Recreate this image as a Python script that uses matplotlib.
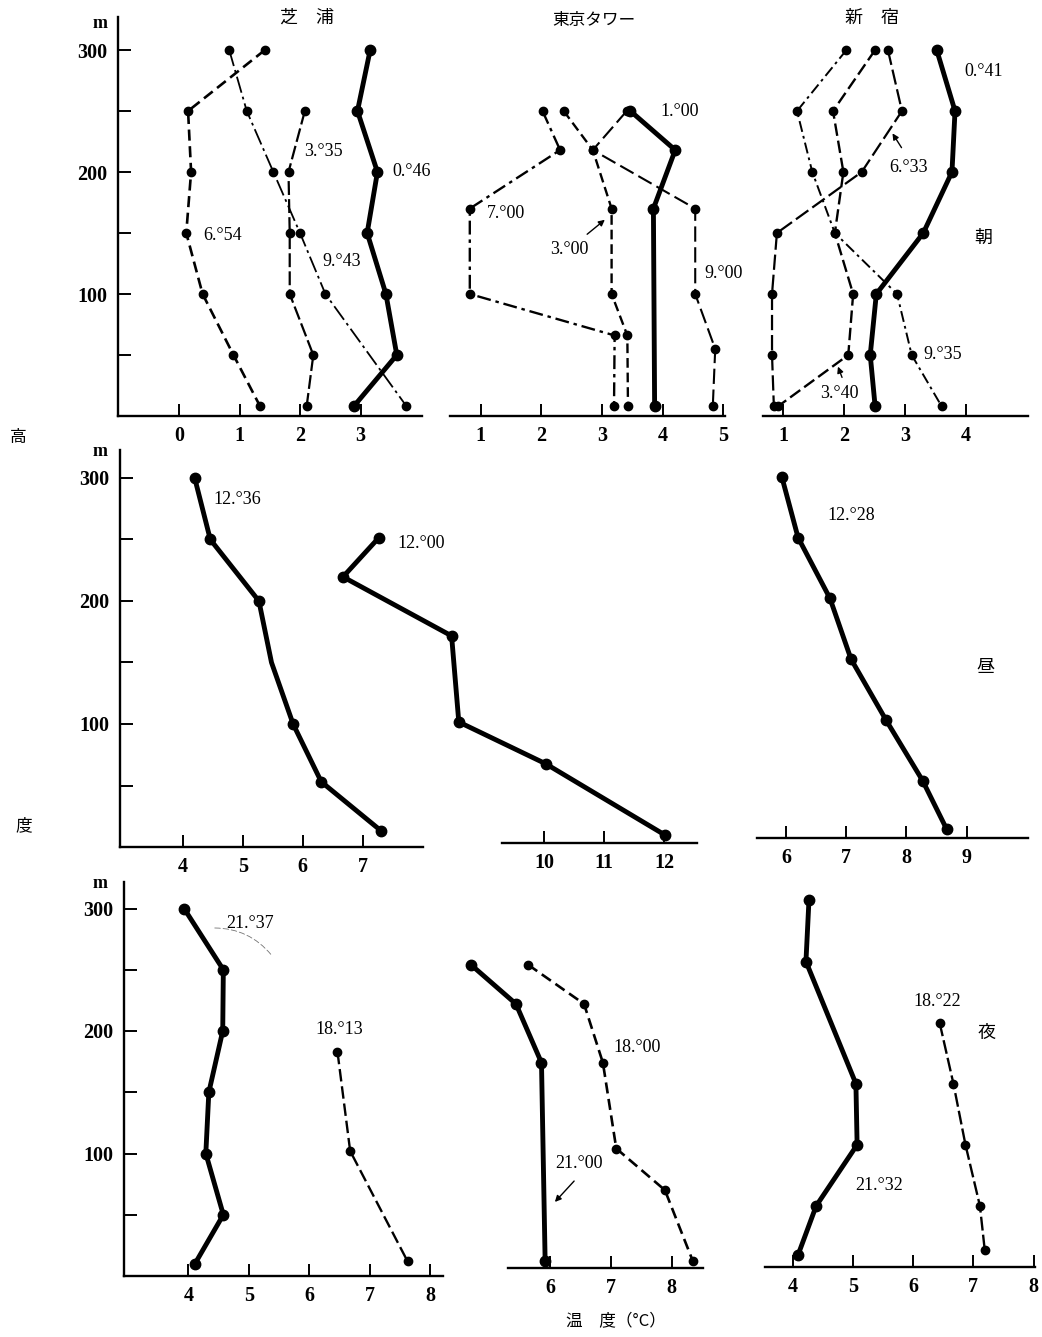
import matplotlib
matplotlib.use("Agg")
import matplotlib.pyplot as plt
import matplotlib.patches as mpatches

plt.rcParams['font.family'] = ['Liberation Serif', 'DejaVu Serif']
plt.rcParams['lines.scale_dashes'] = False

# ---- data (temperature degC vs height m) ----
# morning, Shibaura
sh_h = [300, 250, 200, 150, 100, 50, 8]
sh_0046 = [3.16, 2.95, 3.28, 3.11, 3.42, 3.60, 2.89]
sh_0335_h = [250, 200, 150, 100, 50, 8]
sh_0335 = [2.08, 1.81, 1.83, 1.83, 2.22, 2.11]
sh_0654 = [1.42, 0.15, 0.20, 0.12, 0.39, 0.90, 1.34]
sh_0943_h = [300, 250, 200, 150, 100, 8]
sh_0943 = [0.83, 1.12, 1.56, 2.00, 2.42, 3.76]

# morning, Tokyo Tower
tt_h = [250, 218, 170, 100, 66, 8]
tt_0100_h = [250, 218, 170, 8]
tt_0100 = [3.47, 4.21, 3.85, 3.87]
tt_0300 = [2.37, 2.85, 3.16, 3.16, 3.42, 3.43]
tt_0700 = [2.02, 2.31, 0.82, 0.82, 3.21, 3.20]
tt_0900_h = [250, 218, 170, 100, 55, 8]
tt_0900 = [3.41, 2.85, 4.54, 4.54, 4.87, 4.83]

# morning, Shinjuku
sj_h = [300, 250, 200, 150, 100, 50, 8]
sj_0041 = [3.52, 3.82, 3.77, 3.30, 2.53, 2.43, 2.51]
sj_0340 = [2.51, 1.82, 1.99, 1.85, 2.15, 2.07, 0.92]
sj_0633 = [2.72, 2.95, 2.29, 0.90, 0.82, 0.82, 0.85]
sj_0935 = [2.04, 1.23, 1.48, 1.85, 2.87, 3.11, 3.60]

# noon
sh_1236_h = [300, 250, 200, 150, 100, 53, 13]
sh_1236 = [4.20, 4.46, 5.27, 5.48, 5.84, 6.31, 7.31]
tt_1200 = [7.25, 6.65, 8.46, 8.58, 10.03, 12.02]
sj_1228_h = [300, 250, 200, 150, 100, 50, 10]
sj_1228 = [5.93, 6.20, 6.73, 7.08, 7.66, 8.27, 8.67]

# night
sh_2137_h = [300, 250, 200, 150, 100, 50, 10]
sh_2137 = [3.93, 4.58, 4.57, 4.34, 4.29, 4.58, 4.11]
sh_1813_h = [183, 102, 12]
sh_1813 = [6.47, 6.68, 7.63]
tt_2100_h = [250, 218, 170, 8]
tt_2100 = [4.70, 5.44, 5.86, 5.92]
tt_1800 = [5.64, 6.56, 6.87, 7.09, 7.89, 8.35]
sj_2132_h = [300, 250, 150, 100, 50, 10]
sj_2132 = [4.27, 4.22, 5.05, 5.07, 4.39, 4.09]
sj_1822_h = [200, 150, 100, 50, 14]
sj_1822 = [6.44, 6.67, 6.87, 7.11, 7.19]

W, H = 1042, 1337
fig = plt.figure(figsize=(W / 100, H / 100), dpi=100)
fig.patch.set_facecolor('white')

CJK = ['Noto Sans CJK JP', 'DejaVu Sans']


def ft(x, y, s, **kw):
    kw.setdefault('ha', 'center')
    kw.setdefault('va', 'center')
    kw.setdefault('fontsize', 13)
    fig.text(x / W, 1 - y / H, s, **kw)


def arrow(x1, y1, x2, y2, **kw):
    kw.setdefault('arrowstyle', '-|>')
    kw.setdefault('mutation_scale', 9)
    kw.setdefault('lw', 1.0)
    kw.setdefault('color', 'black')
    fig.add_artist(mpatches.FancyArrowPatch((x1 / W, 1 - y1 / H), (x2 / W, 1 - y2 / H),
                                            transform=fig.transFigure, **kw))


def panel(left, right, axis_y, top_y, tx, t0, xs, y0, ys, xticks, yaxis=False):
    ax = fig.add_axes([left / W, 1 - axis_y / H, (right - left) / W, (axis_y - top_y) / H])
    ax.patch.set_visible(False)
    ax.set_xlim(t0 + (left - tx) / xs, t0 + (right - tx) / xs)
    ax.set_ylim((y0 - axis_y) / ys, (y0 - top_y) / ys)
    for s in ['top', 'right']:
        ax.spines[s].set_visible(False)
    ax.spines['bottom'].set_linewidth(1.7)
    ax.set_xticks(xticks)
    ax.set_xticklabels([str(v) for v in xticks], fontweight='bold')
    ax.tick_params(axis='x', direction='in', length=9, width=1.4, pad=7, labelsize=14.5)
    if yaxis:
        ax.spines['left'].set_linewidth(1.7)
        ax.set_yticks([100, 200, 300])
        ax.set_yticks([50, 150, 250], minor=True)
        ax.set_yticklabels(['100', '200', '300'], fontweight='bold')
        ax.tick_params(axis='y', which='both', direction='in', length=9, width=1.4,
                       pad=8, labelsize=14.5)
    else:
        ax.spines['left'].set_visible(False)
        ax.set_yticks([])
    return ax


def prof(ax, t, h, lw=1.5, ms=6, dashes=None, markevery=None):
    line, = ax.plot(t, h, color='black', lw=lw, marker='o', ms=ms, clip_on=False,
                    markevery=markevery, solid_capstyle='round', dash_capstyle='butt',
                    solid_joinstyle='round')
    if dashes:
        line.set_dashes(dashes)
    return line


THICK = 3.5

# ---- top row (morning) ----
a = panel(118, 422, 416, 17, 179, 0, 60.5, 416, 1.22, [0, 1, 2, 3], yaxis=True)
prof(a, sh_0046, sh_h, lw=THICK, ms=7.5)
prof(a, sh_0335, sh_0335_h, lw=1.6, dashes=(10, 3))
prof(a, sh_0654, sh_h, lw=1.9, dashes=(8, 4))
prof(a, sh_0943, sh_0943_h, lw=1.3, dashes=(12, 3, 2, 3))

b = panel(450, 725, 416, 17, 480.7, 1, 60.6, 416, 1.22, [1, 2, 3, 4, 5])
prof(b, tt_0100, tt_0100_h, lw=THICK, ms=7.5)
prof(b, tt_0300, tt_h, lw=1.7, dashes=(7, 3.5))
prof(b, tt_0700, tt_h, lw=1.7, dashes=(10, 3.5, 2.5, 3.5))
prof(b, tt_0900, tt_0900_h, lw=1.5, dashes=(11, 4))

c = panel(763, 1028, 416, 17, 783, 1, 61, 416, 1.22, [1, 2, 3, 4])
prof(c, sj_0041, sj_h, lw=THICK, ms=7.5)
prof(c, sj_0340, sj_h, lw=1.7, dashes=(9, 3.5))
prof(c, sj_0633, sj_h, lw=1.6, dashes=(11, 3.5))
prof(c, sj_0935, sj_h, lw=1.4, dashes=(8, 3, 2, 3))

# ---- middle row (noon) ----
d = panel(120, 423, 847, 450, 182.7, 4, 60, 847, 1.23, [4, 5, 6, 7], yaxis=True)
prof(d, sh_1236, sh_1236_h, lw=THICK, ms=7.5, markevery=[0, 1, 2, 4, 5, 6])

e = panel(502, 697, 843, 450, 544, 10, 60, 845, 1.23, [10, 11, 12])
prof(e, tt_1200, tt_h, lw=THICK, ms=7.5)

f = panel(757, 1028, 838, 450, 786, 6, 60.2, 841.5, 1.216, [6, 7, 8, 9])
prof(f, sj_1228, sj_1228_h, lw=THICK, ms=7.5)

# ---- bottom row (night) ----
g = panel(124, 443, 1276, 882, 188.3, 4, 60.4, 1276, 1.225, [4, 5, 6, 7, 8], yaxis=True)
prof(g, sh_2137, sh_2137_h, lw=THICK, ms=7.5)
prof(g, sh_1813, sh_1813_h, lw=1.7, dashes=(9, 3.5))

k = panel(508, 703, 1268, 882, 550, 6, 60.8, 1271, 1.225, [6, 7, 8])
prof(k, tt_2100, tt_2100_h, lw=THICK, ms=7.5)
prof(k, tt_1800, tt_h, lw=1.9, dashes=(8, 4))

m = panel(765, 1035, 1267, 882, 792.7, 4, 60.2, 1267, 1.222, [4, 5, 6, 7, 8])
prof(m, sj_2132, sj_2132_h, lw=THICK, ms=7.5)
prof(m, sj_1822, sj_1822_h, lw=1.7, dashes=(10, 3))

# ---- texts ----
ft(307, 18, '芝　浦', family=CJK, fontsize=13)
ft(594, 20, '東京タワー', family=CJK, fontsize=12)
ft(872, 18, '新　宿', family=CJK, fontsize=13)

for yy in (24, 452, 884):
    ft(100, yy, 'm', fontsize=13, fontweight='bold')

ft(18, 437, '高', family=CJK, fontsize=12)
ft(24, 826, '度', family=CJK, fontsize=12)
ft(616, 1322, '温　度（°C）', family=CJK, fontsize=12)

ft(983, 238, '朝', family=CJK, fontsize=13)
ft(985, 667, '昼', family=CJK, fontsize=13)
ft(987, 1033, '夜', family=CJK, fontsize=13)

# time labels
ft(323, 152, '3.°35')
ft(412, 172, '0.°46')
ft(223, 235, '6.°54')
ft(342, 262, '9.°43')

ft(680, 111, '1.°00')
ft(506, 213, '7.°00')
ft(569, 250, '3.°00')
arrow(585, 236, 607, 218)
ft(724, 273, '9.°00')

ft(984, 72, '0.°41')
ft(909, 167, '6.°33')
arrow(903, 150, 891, 131)
ft(943, 355, '9.°35')
ft(839, 394, '3.°40')
arrow(843, 380, 837, 364)

ft(237, 499, '12.°36')
ft(421, 543, '12.°00')
ft(851, 515, '12.°28')

ft(250, 923, '21.°37')
arrow(212, 928, 273, 957, arrowstyle='-', lw=0.6, color='0.45',
      connectionstyle='arc3,rad=-0.25', linestyle=(0, (4, 2)))
ft(339, 1029, '18.°13')
ft(637, 1047, '18.°00')
ft(579, 1163, '21.°00')
arrow(576, 1179, 553, 1204)
ft(937, 1002, '18.°22')
ft(879, 1186, '21.°32')

fig.savefig('out.png', dpi=100, facecolor='white')
